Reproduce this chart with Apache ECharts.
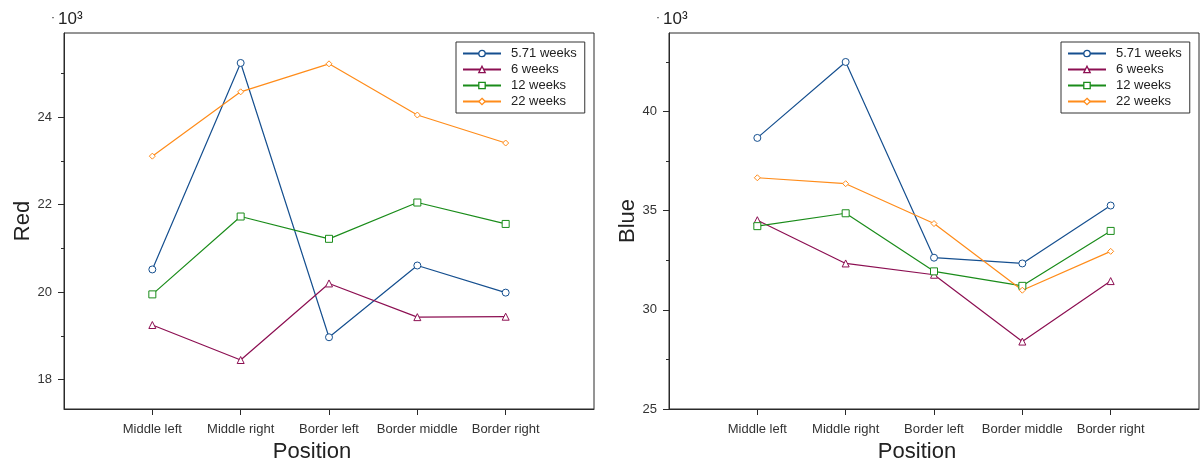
<!DOCTYPE html>
<html><head><meta charset="utf-8">
<script src="https://cdn.jsdelivr.net/npm/echarts@6/dist/echarts.min.js"></script>
<style>html,body{margin:0;padding:0;background:#fff}#c{width:1201px;height:459px}</style>
</head><body><div id="c"></div>
<script>
const categories = ['Middle left', 'Middle right', 'Border left', 'Border middle', 'Border right'];
const seriesNames = ['5.71 weeks', '6 weeks', '12 weeks', '22 weeks'];
// Red channel values
const red571 = [20520, 25240, 18970, 20610, 19990];
const red6 = [19250, 18450, 20200, 19430, 19440];
const red12 = [19950, 21730, 21220, 22050, 21560];
const red22 = [23110, 24580, 25220, 24050, 23410];
// Blue channel values
const blue571 = [38670, 42500, 32630, 32340, 35260];
const blue6 = [34520, 32340, 31770, 28400, 31450];
const blue12 = [34220, 34870, 31940, 31210, 33980];
const blue22 = [36660, 36360, 34350, 30990, 32950];
// Tick values
const redMajorTicks = [18000, 20000, 22000, 24000];
const redMinorTicks = [19000, 21000, 23000, 25000];
const blueMajorTicks = [25000, 30000, 35000, 40000];
const blueMinorTicks = [27500, 32500, 37500, 42500];
const xTicks = [1, 2, 3, 4, 5];

const colors = ['#154f8f', '#8c0f52', '#1a8c1a', '#ff8c1a'];
const symbols = ['circle', 'triangle', 'rect', 'diamond'];
const symbolSizes = [7, 7, 7, 6];

const chart = echarts.init(document.getElementById('c'), null, {renderer: 'canvas'});
const axisColor = '#2a2a2a';
const labelColor = '#333';
const font = 'Liberation Sans, Arial, sans-serif';

function xAxisFor(gi) {
  return {
    type: 'value', gridIndex: gi, min: 0, max: 6,
    name: 'Position', nameLocation: 'middle', nameGap: 24,
    nameTextStyle: {fontSize: 22, color: '#222', fontFamily: font, padding: [0, 34, 0, 0]},
    axisLine: {show: true, lineStyle: {color: axisColor, width: 1}},
    axisTick: {show: true, length: 6, customValues: xTicks, lineStyle: {color: axisColor}},
    axisLabel: {customValues: xTicks, margin: 14, fontSize: 13, color: labelColor, fontFamily: font,
      formatter: v => categories[Math.round(v) - 1] || ''},
    splitLine: {show: false}
  };
}
function yAxesFor(gi, name, min, max, major, minor) {
  return [{
    type: 'value', gridIndex: gi, min: min, max: max, position: 'left',
    name: name, nameLocation: 'middle', nameGap: 30,
    nameTextStyle: {fontSize: 22, color: '#222', fontFamily: font},
    axisLine: {show: true, lineStyle: {color: axisColor, width: 1}},
    axisTick: {show: true, length: 6, customValues: major, lineStyle: {color: axisColor}},
    axisLabel: {customValues: major, margin: 12, fontSize: 13, color: labelColor, fontFamily: font,
      formatter: v => String(Math.round(v / 1000))},
    splitLine: {show: false}
  }, {
    type: 'value', gridIndex: gi, min: min, max: max, position: 'left',
    axisLine: {show: false},
    axisTick: {show: true, length: 3, customValues: minor, lineStyle: {color: axisColor}},
    axisLabel: {show: false},
    splitLine: {show: false}
  }];
}
function seriesFor(xi, yi, arrays) {
  return arrays.map((arr, k) => ({
    name: seriesNames[k], type: 'line', xAxisIndex: xi, yAxisIndex: yi,
    data: arr.map((v, i) => [i + 1, v]),
    symbol: symbols[k], symbolSize: symbolSizes[k],
    lineStyle: {color: colors[k], width: 1.2},
    itemStyle: {color: '#fff', borderColor: colors[k], borderWidth: 1}
  }));
}
function legendFor(left) {
  return {
    data: seriesNames, orient: 'vertical', left: left, top: 42,
    itemWidth: 38, itemHeight: 8, itemGap: 3, padding: [5, 8, 5, 6],
    borderColor: '#333', borderWidth: 1, backgroundColor: '#fff',
    lineStyle: {width: 2},
    itemStyle: {borderWidth: 1.3},
    textStyle: {fontSize: 13, color: '#222', fontFamily: font, padding: [0, 0, 0, 5]},
    selectedMode: false
  };
}
function sciText(x) {
  return [
    {type: 'text', left: x - 7, top: 12, style: {text: '·', font: '12px ' + font, fill: '#222'}},
    {type: 'text', left: x, top: 11, style: {text: '10³', font: '17px ' + font, fill: '#222'}}
  ];
}

const gridCommon = {top: 33, width: 530, height: 376, show: true, borderColor: axisColor, borderWidth: 1,
  backgroundColor: 'transparent', containLabel: false, outerBoundsMode: 'none'};
const option = {
  animation: false,
  backgroundColor: '#fff',
  grid: [
    Object.assign({left: 64}, gridCommon),
    Object.assign({left: 669}, gridCommon)
  ],
  xAxis: [xAxisFor(0), xAxisFor(1)],
  yAxis: [
    ...yAxesFor(0, 'Red', 17330, 25925, redMajorTicks, redMinorTicks),
    ...yAxesFor(1, 'Blue', 25000, 43960, blueMajorTicks, blueMinorTicks)
  ],
  legend: [legendFor(456), legendFor(1061)],
  series: [
    ...seriesFor(0, 0, [red571, red6, red12, red22]),
    ...seriesFor(1, 2, [blue571, blue6, blue12, blue22])
  ],
  graphic: [...sciText(58), ...sciText(663)]
};
chart.setOption(option);
</script></body></html>
